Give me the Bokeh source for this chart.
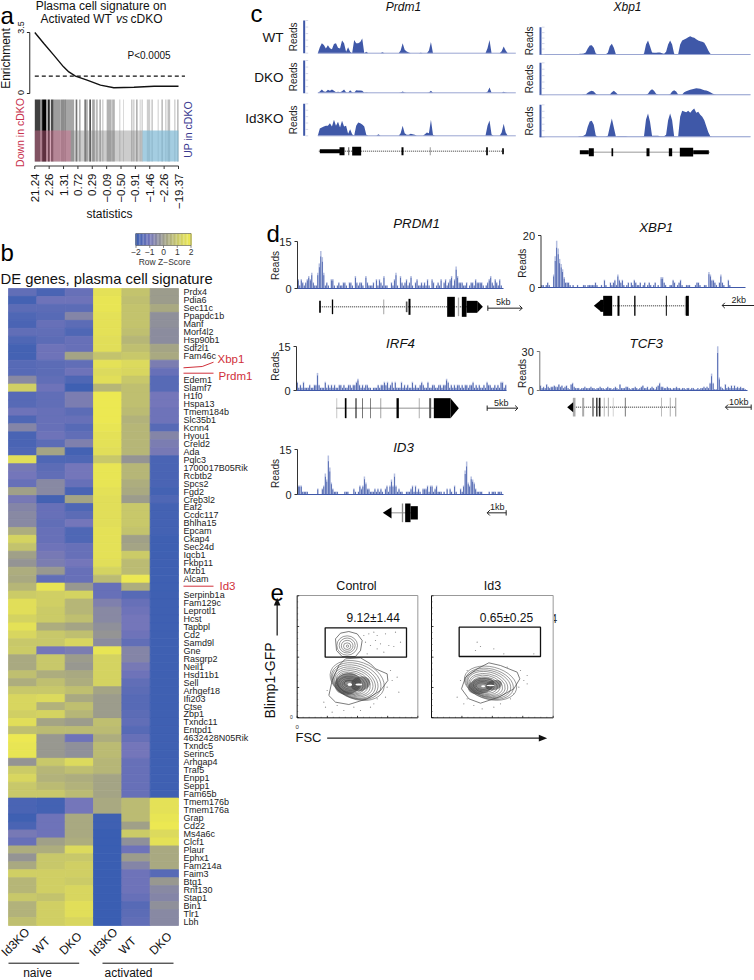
from math import pi
from bokeh.plotting import figure
from bokeh.models import Range1d, LinearColorMapper, ColumnDataSource
from bokeh.core.properties import value
from bokeh.embed import file_html
from bokeh.resources import INLINE

W, H = 754, 980
FONT = "Liberation Sans"

# ---------- panel a ----------
gsea_rank = [0, .063, .132, .2, .237, .283, .364, .457, .55, .69, .83, 1]
gsea_enrich = [3.5, 2.87, 2.2, 1.53, 1.24, 1.0, .77, .48, .33, .36, .42, .42]
stat_labels = ["21.24", "2.26", "1.31", "0.72", "0.29", "\u22120.09", "\u22120.50", "\u22120.91", "\u22121.46", "\u22122.26", "\u221219.37"]
bar_rank = [8, 19, 28, 36, 42, 52, 67, 82, 89, 105, 125, 135, 151, 156, 166, 176, 186, 196, 204, 223, 236, 255, 266, 291, 297, 306, 316, 322, 341, 352, 370, 382, 393, 402, 420, 429]
bar_width = [16, 6, 12, 5, 6, 8, 22, 7, 8, 26, 5, 5, 5, 6, 5, 8, 6, 5, 4, 15, 8, 3, 3, 4, 4, 5, 3, 4, 10, 5, 3, 5, 4, 8, 4, 5]
bar_gray = [.75, .45, 1, .3, .85, .7, .38, .45, .42, .35, .55, .3, .5, .3, .7, .35, .25, .3, .2, .3, .3, .2, .15, .25, .2, .3, .2, .2, .2, .2, .2, .25, .2, .25, .2, .25]

# ---------- panel b ----------
genes = ["Prdx4", "Pdia6", "Sec11c", "Ppapdc1b", "Manf", "Morf4l2", "Hsp90b1", "Sdf2l1", "Fam46c", "", "", "Edem1", "Slamf7", "H1f0", "Hspa13", "Tmem184b", "Slc35b1", "Kcnn4", "Hyou1", "Creld2", "Ada", "Pqlc3", "1700017B05Rik", "Rcbtb2", "Spcs2", "Fgd2", "Creb3l2", "Eaf2", "Ccdc117", "Bhlha15", "Epcam", "Ckap4", "Sec24d", "Iqcb1", "Fkbp11", "Mzb1", "Alcam", "", "Serpinb1a", "Fam129c", "Leprotl1", "Hcst", "Tapbpl", "Cd2", "Samd9l", "Gne", "Rasgrp2", "Neil1", "Hsd11b1", "Sell", "Arhgef18", "Ifi203", "Ctse", "Zbp1", "Txndc11", "Entpd1", "4632428N05Rik", "Txndc5", "Serinc5", "Arhgap4", "Traf5", "Enpp1", "Sepp1", "Fam65b", "Tmem176b", "Tmem176a", "Grap", "Cd22", "Ms4a6c", "Clcf1", "Plaur", "Ephx1", "Fam214a", "Faim3", "Btg1", "Rnf130", "Stap1", "Bin1", "Tlr1", "Lbh"]
naive_id3ko = [-1.3,-1.8,-1.4,-1.6,-1.7,-1.3,-1.6,-1.8,-1.8,-1.5,
 -1.5,-0.5,1.2,-1.5,-1.5,-1.1,-1.6,-0.6,-1.7,-1.7,
 -1.6,1.6,-0.9,-1.0,-1.2,0.1,-0.9,-0.6,-0.5,-0.5,
 0.4,1.3,0.9,0.1,-0.2,0.4,0.3,0.6,1.1,1.6,
 1.6,1.3,1.7,1.4,1.0,1.1,0.3,0.3,0.8,0.4,
 1.0,1.4,1.4,1.2,1.6,0.8,1.9,1.8,1.8,-0.2,
 1.1,1.4,1.0,1.0,-1.7,-1.7,-1.9,-1.7,-0.9,-1.2,
 0.4,-0.2,0.3,1.2,0.6,0.6,1.0,0.5,0.5,0.8]
naive_wt = [-1.7,-1.1,-1.4,-1.5,-1.2,-1.3,-1.4,-1.1,-1.1,-1.4,
 -1.4,-1.3,-1.1,-1.3,-1.3,-1.2,-1.2,-1.2,-1.1,-1.4,
 0.2,-1.6,-1.4,-1.3,-0.5,-0.5,-1.8,-1.2,-1.2,-1.3,
 -1.2,-1.2,-1.1,-0.9,-0.8,-0.1,-1.3,1.8,1.2,1.2,
 1.1,1.1,0.4,1.0,1.0,-1.0,1.0,1.0,0.4,0.8,
 1.0,1.5,0.5,1.3,0.2,0.7,-0.1,-0.1,-0.1,1.0,
 0.6,0.5,0.7,1.0,-1.8,-1.8,-1.1,-1.1,-1.1,0.1,
 0.4,1.0,1.0,1.2,1.2,1.2,0.9,1.2,1.2,1.2]
naive_dko = [-1.2,-1.1,-1.4,-0.6,-1.4,-1.6,-1.2,-1.2,0.2,-1.3,
 -1.1,-1.6,-1.9,-0.8,-0.8,-1.4,-1.2,-1.5,-1.3,-0.7,
 -1.8,-1.6,-1.0,-1.0,-1.2,-1.7,0.2,-1.6,-1.4,-1.0,
 -1.6,-1.6,-1.2,-1.2,-1.0,-1.2,-1.2,-0.1,1.3,0.6,
 0.6,0.8,0.2,0.8,1.4,-0.8,0.0,-0.1,0.3,0.4,
 0.8,0.3,0.8,0.6,0.0,0.7,-1.1,-0.3,-0.3,1.5,
 0.8,0.4,0.5,0.7,-1.0,-1.0,0.3,0.3,0.3,0.4,
 1.5,1.0,1.2,1.2,1.1,1.4,1.4,1.6,1.6,1.4]
act_id3ko = [1.7,1.8,1.8,1.7,1.7,1.7,1.6,1.6,0.9,1.7,
 1.5,1.6,0.6,1.9,1.9,1.9,1.9,1.8,1.7,1.7,
 1.6,1.0,1.8,1.8,1.8,1.7,1.6,1.6,1.6,1.6,
 1.7,1.7,1.7,1.7,1.6,1.3,0.7,-1.2,-1.2,-0.7,
 -0.5,-0.5,-0.3,-0.2,-0.4,1.8,1.3,1.3,1.3,1.3,
 0.2,0.0,0.0,0.0,0.8,0.7,0.4,0.7,0.7,0.6,
 0.6,0.2,0.2,0.2,0.3,0.3,-1.9,-1.9,-2,-2,
 -2,-2,-2,-2,-2,-2,-2,-2,-2,-2]
act_wt = [0.9,0.8,0.9,0.9,0.9,0.8,0.6,0.8,1.0,1.5,
 1.4,1.0,0.8,0.8,0.8,0.7,0.5,0.6,0.6,0.6,
 0.6,-0.2,0.6,0.6,0.4,0.3,0.0,1.0,1.0,1.0,
 0.9,0.1,0.2,1.1,0.7,0.7,1.9,0.4,-1.5,-1.2,
 -1.1,-1.0,-1.0,-1.1,-1.3,-0.6,-0.6,-0.9,-1.1,-1.3,
 -1.4,-1.5,-1.5,-1.4,-1.3,-1.5,-1.2,-1.0,-1.0,-1.2,
 -1.2,-1.2,-1.2,-1.2,0.7,0.7,0.7,0.1,1.1,-0.3,
 -1.1,0.0,-0.6,-1.1,-1.1,-1.1,-1.2,-1.5,-1.4,-1.3]
act_dko = [0.0,0.0,0.3,-0.3,-0.3,-0.4,-0.4,0.2,0.3,-0.8,
 -1.2,-1.5,-1.5,-1.0,-1.0,-1.1,-1.1,-1.5,-0.6,-0.8,
 -0.9,-1.7,-1.7,-1.7,-1.7,-1.8,-1.6,-1.8,-1.8,-1.8,
 -1.8,-1.9,-1.9,-1.9,-1.9,-1.9,-1.9,-1.9,-1.9,-1.9,
 -1.9,-1.9,-1.9,-1.9,-1.9,-1.9,-1.9,-1.9,-1.9,-1.9,
 -1.9,-1.9,-1.9,-1.9,-1.9,-1.9,-1.9,-1.9,-1.9,-1.9,
 -1.9,-1.9,-1.9,-1.9,1.7,1.7,1.8,1.9,1.5,1.7,
 0.3,0.3,0.3,-1.5,-0.1,-0.5,-0.6,-0.3,-0.5,-0.5]
sample_labels = ["Id3KO", "WT", "DKO", "Id3KO", "WT", "DKO"]

# ---------- panel c: coverage, in bins ----------
prdm1_wt = [0,18,30,25,14,24,15,12,28,30,16,14,38,30,4,18,4,0,40,30,30,34,44,0,4,0,0,0,0,0,0,0,3,0,0,0,0,0,0,0,0,8,30,10,5,2,0,0,0,0,0,1,0,0,0,8,34,0] + [0]*26 + [15,40,0,0,0,0,0,6,20,8,0,0,0,0,0]
prdm1_dko = [0,4,10,4,3,9,6,10,6,2,3,2,5,10,2,0,8,2,0,8,7,7,6,0,1,0,0,0,0,0,0,0,0,0,0,0,0,0,0,0,0,1,4,1,0,0,0,0,0,0,0,0,0,0,0,1,6,0] + [0]*26 + [3,16,0,0,0,0,0,0,3,1,0,0,0,0,0]
prdm1_id3ko = [0,22,25,28,30,30,38,28,48,30,42,25,45,28,30,6,20,5,0,30,40,38,34,28,3,0,0,0,0,0,5,0,0,0,0,0,0,0,0,0,0,8,30,8,3,3,6,5,3,0,0,0,0,5,10,8,48,3] + [0]*26 + [30,46,4,0,0,0,0,10,36,10,0,0,0,0,0]
xbp1_wt = [0]*20 + [2,2,3,6,18,27,28,20,3,1,1,1,1,1,5,25,32,20,1,1,1,1,1,1,1,1,1,1,1,1,1,1,2,30,42,25,6,5,5,6,6,4,2,8,30,42,30,2,1,1,30,42,45,48,52,55,52,50,46,42,40,38,35,25,12,2] + [1]*20
xbp1_dko = [0]*22 + [1,1,6,10,12,10,3,1,1,1,1,1,1,1,8,12,7,1,1,1,1,1,1,1,1,1,1,1,1,1,1,1,3,12,17,12,3,1,1,1,1,1,1,2,10,14,10,1,1,1,8,11,13,15,17,18,20,19,18,16,14,13,11,8,4,2] + [1]*18
xbp1_id3ko = [0]*20 + [2,2,3,8,30,46,48,36,4,1,1,1,1,1,3,30,55,28,1,2,2,2,2,2,1,1,1,1,1,1,1,1,2,52,70,45,3,3,3,3,2,2,2,6,50,70,50,2,1,1,60,78,76,74,78,72,80,85,72,75,66,60,50,32,14,2] + [1]*20

# ---------- panel d: reads per bin ----------
prdm1_reads = [3,1,3,2,1,2,3,4,3,5,2,1,1,5,8,12,10,5,1,2,1,0,3,3,1,0,1,2,1,1,2,2,1,0,2,2,1,0,4,2,1,2,2,1,0,4,2,1,1,1,2,0,3,1,3,2,1,4,1,1,0,0,2,1,3,5,1,0,4,2,1,2,3,1,2,4,1,0,2,3,1,1,2,1,2,1,3,1,0,3,2,0,1,2,1,3,0,2,3,1,2,3,4,1,3,7,4,2,2,2,1,1,2,0,1,2,2,1,3,2,2,2,2,1,0,1,2,3,4,2,1,3,2,1,3,1,0]
xbp1_reads = [1,1,0,1,2,1,0,0,5,12,18,15,11,9,7,4,2,2,2,1,0,1,0,0,1,0,0,0,1,1,0,1,1,1,1,1,2,1,0,0,1,0,3,1,0,0,2,1,2,3,1,5,3,2,3,1,0,1,2,0,2,1,3,2,1,1,2,0,1,2,0,1,2,1,0,1,2,0,1,0,4,4,2,1,0,0,1,1,3,2,0,1,2,3,1,0,0,1,1,1,0,0,0,1,2,2,1,0,0,1,1,0,6,5,3,3,2,1,0,2,5,2,1,0,0,3,1,0,0,0,0,0,0,0,0,0,0]
irf4_reads = [3,1,2,1,3,1,1,1,2,1,1,2,2,6,2,1,1,1,3,1,2,1,2,1,2,1,1,2,2,1,2,1,1,2,2,1,2,2,3,4,2,1,2,1,2,2,1,1,0,1,1,1,2,1,2,2,3,2,3,1,2,3,1,3,1,1,1,3,1,2,1,2,1,1,3,1,2,1,1,2,3,2,1,1,3,1,1,2,2,1,1,2,2,1,2,2,4,3,1,2,1,2,1,2,2,1,2,1,2,2,1,2,2,3,1,2,1,2,1,1,2,1,3,2,2,1,1,2,1,2,1,3,3,1,2]
tcf3_reads = [4,2,3,2,5,3,2,3,3,4,3,3,5,3,4,2,3,4,2,1,5,6,3,2,2,2,1,2,2,3,2,2,2,3,2,2,1,2,2,3,2,2,1,2,3,2,2,1,2,3,2,1,5,2,2,2,3,3,2,1,2,2,3,2,1,2,3,4,2,2,3,1,2,3,2,1,3,4,6,3,3,2,2,3,2,2,1,2,2,3,2,2,1,2,2,1,2,2,1,2,2,1,1,2,1,2,2,3,2,3,2,6,13,6,1,1,34,10,3,2,1,5,2,3,2,4,2,4,2,3,2,3,2,2,1,0]
id3_reads = [3,3,3,1,1,1,1,0,0,0,0,0,0,2,0,0,2,3,7,5,13,9,4,2,1,1,1,0,0,0,0,1,1,1,0,0,0,2,1,0,1,3,2,3,6,4,2,2,1,1,1,2,1,2,1,2,1,0,2,3,1,3,5,3,7,3,1,2,1,1,0,0,1,1,1,2,3,1,3,1,2,1,0,2,2,2,3,1,3,3,1,2,3,1,1,1,0,1,0,2,0,2,1,0,3,1,0,0,2,1,3,8,11,4,3,6,5,4,2,1,1,1,1,0,0,0,0,1,0,1,1,1,0,1,1,1,0]

# ---------- gene models: (start, end, half height, colour) ----------
model_c = {
    "prdm1": (452, 175, 730, [(178,240,6,"#000"),(237,252,12,"#000"),(264,266,12,"#000"),(275,302,13,"#000"),(423,429,12,"#000"),(508,510,12,"#666"),(677,682,12,"#000"),(725,730,9,"#000")]),
    "xbp1": (455, 960, 1350, [(958,985,6,"#000"),(985,1000,12,"#000"),(1053,1058,12,"#000"),(1158,1167,12,"#000"),(1225,1235,12,"#000"),(1258,1298,13,"#000"),(1298,1345,6,"#000")]),
}
model_d = {
    "prdm1": (289, 178, 650, [(176,181,18,"#000"),(214,218,22,"#000"),(369,371,22,"#777"),(436,441,16,"#555"),(444,450,24,"#000"),(560,583,30,"#000"),(592,596,28,"#aaa"),(604,618,30,"#000"),(618,650,18,"#000")], (650,667,18)),
    "xbp1": (286, 1010, 1285, [(1020,1030,18,"#000"),(1028,1055,30,"#000"),(1071,1077,30,"#000"),(1121,1125,30,"#000"),(1216,1219,30,"#000"),(1273,1276,28,"#aaa"),(1276,1285,30,"#000")], (1022,1000,18)),
    "irf4": (593, 228, 520, [(228,230,30,"#aaa"),(253,258,30,"#000"),(285,288,30,"#000"),(305,307,30,"#333"),(329,331,30,"#444"),(360,362,30,"#777"),(408,415,30,"#000"),(475,477,30,"#888"),(506,512,30,"#555"),(520,570,30,"#000")], (570,595,30)),
    "tcf3": (590, 935, 1245, [(937,945,28,"#aaa"),(965,971,28,"#aaa"),(995,1000,28,"#777"),(1007,1011,28,"#222"),(1015,1020,28,"#222"),(1030,1032,28,"#999"),(1042,1045,28,"#aaa"),(1057,1059,28,"#bbb"),(1093,1096,28,"#777"),(1202,1204,28,"#999"),(1228,1230,28,"#888"),(1245,1247,28,"#666")], (938,920,15)),
    "id3": (907, 393, 470, [(424,428,28,"#888"),(434,450,28,"#000"),(450,472,20,"#000")], (393,367,17)),
}
scale_bars = [(682,785,293,"5kb",728,275,1),(1385,1483,285,"2kb",1435,268,-1),(680,772,593,"5kb",722,578,1),(1395,1472,590,"10kb",1435,575,-1),(680,737,907,"1kb",710,890,-1)]

# ---------- panel e: contours (x, y, width, height, angle) ----------
ctrl_contours = [(290,330,168,112,20),(287,332,154,104,20),(284,334,142,96,20),(282,336,130,88,20),(280,337,118,80,18),(278,338,106,72,18),(275,339,96,65,15),(272,340,86,58,15),(270,342,76,50,10),(268,342,66,44,10),(268,342,56,36,8),(268,342,46,28,5),(268,340,36,20,0),(265,338,26,14,0),
                 (260,225,62,58,0),(260,225,48,45,0),(260,226,35,33,0),(260,227,22,20,0),(261,227,7,7,0)]
id3_contours = [(690,338,160,98,14),(687,340,146,90,14),(685,341,134,82,14),(682,342,122,75,14),(680,344,110,68,12),(678,345,98,60,12),(676,346,86,52,10),(674,346,74,44,10),(670,347,62,36,8),(668,347,50,28,5),(666,347,38,20,5)]
ctrl_outer_x = [[205,215,235,255,300,330,345,380,382,360,320,265,225,205],[225,240,265,290,305,300,285,245,228,225]]
ctrl_outer_y = [[375,330,285,265,262,280,295,310,330,360,385,402,395,375],[205,188,183,190,210,240,258,258,240,205]]
id3_outer_x = [[603,615,650,685,720,770,778,760,715,660,625,603]]
id3_outer_y = [[355,320,295,277,285,305,325,355,380,398,385,355]]
ctrl_dots_x = [310,325,340,350,345,360,330,385,400,420,375,315,405,300,320,370,350,195,215,250,300,340,395,410,380,375,200,190,350,390,280,230,330,415]
ctrl_dots_y = [195,190,185,195,210,220,225,225,228,215,190,215,185,240,250,245,235,410,425,420,420,400,330,320,350,380,360,395,385,300,410,405,410,365]
id3_dots_x = [650,660,700,645,800,790,775,800,760,720,700,640,610,590,600,620,740,780,665,750,620,820,730]
id3_dots_y = [215,228,235,240,315,330,350,340,370,400,410,405,400,380,330,300,290,300,415,385,385,250,250]

p = figure(width=W, height=H, x_range=Range1d(0, W), y_range=Range1d(H, 0),
           x_axis_type=None, y_axis_type=None, toolbar_location=None, output_backend="svg",
           min_border=0, outline_line_color=None, background_fill_color="white", border_fill_color="white")
p.grid.visible = False

_n = [0]
def panel(dx0, dx1, px0, px1, dy0, dy1, py0, py1):
    _n[0] += 1
    xn, yn = f"x{_n[0]}", f"y{_n[0]}"
    sx = (dx1 - dx0) / (px1 - px0)
    sy = (dy1 - dy0) / (py1 - py0)
    p.extra_x_ranges[xn] = Range1d(dx0 - px0 * sx, dx0 + (W - px0) * sx)
    p.extra_y_ranges[yn] = Range1d(dy0 + (H - py0) * sy, dy0 - py0 * sy)
    return dict(x_range_name=xn, y_range_name=yn)

def T(x, y, s, size, color="#111111", align="left", base="middle", angle=0, style="normal", **kw):
    p.text(x=[x], y=[y], text=[s], text_font=value(FONT), text_font_size=f"{size}px", text_color=color,
           text_align=align, text_baseline=base, angle=angle, text_font_style=style, **kw)

# palette
anchors = [(58, 94, 178), (116, 118, 186), (156, 156, 140), (200, 200, 106), (240, 236, 80)]
palette = []
for k in range(4):
    for j in range(32):
        t = j / 32
        palette.append("#%02x%02x%02x" % tuple(int(anchors[k][c] + (anchors[k + 1][c] - anchors[k][c]) * t) for c in range(3)))
palette.append("#%02x%02x%02x" % anchors[-1])
mapper = LinearColorMapper(palette=palette, low=-2, high=2)

# ----- a -----
for s, x, y in [("a", 0, 15), ("b", 0, 252), ("c", 250, 13), ("d", 266, 233), ("e", 270, 592)]:
    T(x, y, s, 24, "#000000", base="alphabetic")
T(100.5, 5, "Plasma cell signature on", 12, align="center")
T(40, 18, "Activated WT", 12)
T(115.5, 18, "vs", 12, style="italic")
T(130, 18, "cDKO", 12)
k = panel(0, 1, 34.3, 178, 0, 3.5, 93, 32)
p.line(gsea_rank, gsea_enrich, line_color="#111111", line_width=1.4, **k)
p.line([0, 1.045], [1, 1], line_color="#111111", line_width=1.2, line_dash="4 3", **k)
p.segment(x0=[-.035], y0=[0], x1=[-.035], y1=[3.5], line_color="#222", line_width=1, **k)
p.segment(x0=[-.035, -.035], y0=[0, 3.5], x1=[-.055, -.055], y1=[0, 3.5], line_color="#222", line_width=1, **k)
T(20.5, 92, "0", 9, angle=pi/2, align="center")
T(20.5, 27, "3.5", 9, angle=pi/2, align="center")
T(5, 58, "Enrichment", 12, angle=pi/2, align="center")
T(127, 55, "P<0.0005", 10)

kb = panel(0, 431, 34.3, 178, 0, 1, 161, 99)
p.vbar(x=bar_rank, width=bar_width, bottom=0, top=1, fill_color="#000000", fill_alpha=bar_gray, line_color=None, **kb)
p.quad(left=[0, 108, 323], right=[108, 323, 431], bottom=[0, 0, 0], top=[.5, .5, .5],
       fill_color=["#d0688c", "#808080", "#7db8d4"], fill_alpha=[.45, .4, .7], line_color=None, **kb)
T(19.5, 132, "Down in cDKO", 10.5, "#c8324e", angle=pi/2, align="center")
T(187, 129, "UP in cDKO", 10.5, "#3a3a90", angle=pi/2, align="center")
kt = panel(0, 10, 34.3, 178, 0, 1, 165.5, 164.5)
p.line([0, 10], [0, 0], line_color="#333", line_width=1, **kt)
p.segment(x0=list(range(11)), y0=[0]*11, x1=list(range(11)), y1=[-3]*11, line_color="#333", line_width=1, **kt)
p.text(x=list(range(11)), y=[-7.5]*11, text=stat_labels, angle=pi/2, text_align="right", text_baseline="middle",
       text_font=value(FONT), text_font_size="11.5px", text_color="#111", **kt)
T(109, 213, "statistics", 12, align="center")

# ----- b -----
cb_z = [-2 + .1 * i for i in range(41)]
kc = panel(-2, 2, 135.5, 190.5, 0, 1, 245, 233)
p.rect(x=cb_z, y=[.5]*41, width=.105, height=1, fill_color=[palette[min(128, int((z+2)*32))] for z in cb_z], line_color=None, **kc)
p.quad(left=[-2], right=[2], bottom=[0], top=[1], fill_color=None, line_color="#555", line_width=.6, **kc)
p.segment(x0=[-2,-1,0,1,2], y0=[0]*5, x1=[-2,-1,0,1,2], y1=[-.2]*5, line_color="#555", line_width=.7, **kc)
p.text(x=[-2,-1,0,1,2], y=[-.5]*5, text=["\u22122","\u22121","0","1","2"], text_align="center", text_baseline="middle",
       text_font=value(FONT), text_font_size="8.5px", text_color="#333", **kc)
T(164, 261, "Row Z\u2212Score", 8.5, "#333", align="center")
T(0, 278, "DE genes, plasma cell signature", 14.8, "#111")

cols = [naive_id3ko, naive_wt, naive_dko, act_id3ko, act_wt, act_dko]
hx, hy, hz = [], [], []
for ci, col in enumerate(cols):
    for ri, z in enumerate(col):
        hx.append(ci + .5); hy.append(ri + .5); hz.append(z)
kh = panel(0, 6, 8, 178, 0, 80, 288, 925)
p.rect(x="x", y="y", width=1, height=1, source=ColumnDataSource(dict(x=hx, y=hy, z=hz)),
       fill_color={"field": "z", "transform": mapper}, line_color={"field": "z", "transform": mapper}, line_width=.8, **kh)
lab = [(i + .5, g) for i, g in enumerate(genes) if g]
p.text(x=[6.18]*len(lab), y=[a for a, _ in lab], text=[b for _, b in lab], text_font=value(FONT), text_font_size="9px",
       text_color="#222", text_baseline="middle", **kh)
RED = "#d0303a"
T(217, 358.7, "Xbp1", 11.5, RED); T(218, 375.7, "Prdm1", 11.5, RED); T(219, 585, "Id3", 11.5, RED)
p.line([183, 201.7, 213], [367.3, 366, 361.7], line_color=RED, line_width=1)
p.segment(x0=[183, 183], y0=[372.7, 585.7], x1=[213, 213], y1=[372.7, 585.7], line_color=RED, line_width=1)
for i, (s, dx, dy) in enumerate(zip(sample_labels, [15, 41, 70, 103, 127, 160], [941.7, 945, 943, 941.7, 945, 943])):
    T(dx, dy, s, 12, angle=pi/4, align="center")
p.segment(x0=[8, 102], y0=[962.7, 962.7], x1=[78.7, 173], y1=[962.7, 962.7], line_color="#111", line_width=1)
T(37, 972.5, "naive", 12, align="center"); T(128, 972.5, "activated", 12, align="center")

# ----- c -----
BLUE = "#3f58a8"
T(403, 6, "Prdm1", 12, style="italic", align="center"); T(627, 6, "Xbp1", 12, style="italic", align="center")
for s, y in [("WT", 37), ("DKO", 77), ("Id3KO", 118)]:
    T(283, y, s, 13.5, align="right")
def track(vals, x0, x1, base):
    k = panel(0, len(vals) - 1, x0, x1, 0, 100, base, base - 33.3)
    p.varea(x=list(range(len(vals))), y1=[0]*len(vals), y2=vals, fill_color=BLUE, **k)
    p.line([0, len(vals) - 1], [0, 0], line_color="#9aa6d2", line_width=1, **k)
for v, b in [(prdm1_wt, 52.7), (prdm1_dko, 92.3), (prdm1_id3ko, 135.3)]:
    track(v, 317.3, 515.3, b)
for v, b in [(xbp1_wt, 54), (xbp1_dko, 94.3), (xbp1_id3ko, 136.3)]:
    track(v, 539, 750, b)
kz = panel(0, 3, 260, 261, 0, 3, 0, 1)
for x, y0, y1, rx in [(131,60,158,100),(131,180,278,100),(131,310,406,100),(840,80,162,808),(840,187,283,808),(840,313,410,808)]:
    p.segment(x0=[x], y0=[y0], x1=[x], y1=[y1], line_color=BLUE, line_width=2, **kz)
    n = 5
    ys = [y1 - (y1 - y0) * i / n for i in range(n + 1)]
    p.segment(x0=[x + 4]*6, y0=ys, x1=[x + 12]*6, y1=ys, line_color="#b8bfdc", line_width=.6, **kz)
    p.text(x=[rx], y=[(y0 + y1) / 2], text=["Reads"], angle=pi/2, text_align="center", text_baseline="middle",
           text_font=value(FONT), text_font_size="10px", text_color="#222", **kz)
for g in model_c.values():
    yc, a, b, ex = g
    p.segment(x0=[a], y0=[yc], x1=[b], y1=[yc], line_color="#333", line_width=1, line_dash="1 1", **kz)
    p.quad(left=[e[0] for e in ex], right=[e[1] for e in ex], top=[yc - e[2] for e in ex], bottom=[yc + e[2] for e in ex],
           fill_color=[e[3] for e in ex], line_color=None, **kz)

# ----- d -----
for s, x, y in [("PRDM1", 416, 223), ("XBP1", 655.7, 226.7), ("IRF4", 400, 342.7), ("TCF3", 645.7, 342.7), ("ID3", 403, 446.7)]:
    T(x, y, s, 13.3, style="italic", align="center")
def reads(vals, ymax, label, x0, x1, base, top, axcol="#333", reads_y=None, lab_x=None):
    k = panel(0, len(vals), x0, x1, 0, ymax, base, top)
    xs = [i + .5 for i in range(len(vals))]
    p.vbar(x=xs, width=1, bottom=0, top=vals, fill_color="#b4bee0", line_color=None, **k)
    p.vbar(x=xs, width=.5, bottom=0, top=[v * .85 for v in vals], fill_color=BLUE, line_color=None, **k)
    p.line([0, len(vals)], [0, 0], line_color=BLUE, line_width=1.2, **k)
    p.segment(x0=[0], y0=[0], x1=[0], y1=[ymax], line_color=axcol, line_width=1, **k)
    t = 3 * len(vals) / (x1 - x0)
    p.segment(x0=[0, 0], y0=[0, ymax], x1=[-t, -t], y1=[0, ymax], line_color=axcol, line_width=1, **k)
    p.text(x=[-2 * t, -2 * t], y=[0, ymax], text=["0", label], text_align="right", text_baseline="middle",
           text_font=value(FONT), text_font_size="11px", text_color="#222", **k)
    T(lab_x, reads_y, "Reads", 10, "#222", angle=pi/2, align="center")
reads(prdm1_reads, 15, "15", 297, 503, 288, 241, reads_y=265, lab_x=275)
reads(xbp1_reads, 20, "20", 540.5, 745, 287, 235, reads_y=262.7, lab_x=521.7)
reads(irf4_reads, 15, "15", 296, 506, 390, 346, reads_y=365.7, lab_x=275)
reads(tcf3_reads, 30, "30", 539.3, 747, 390, 351, axcol="#777", reads_y=373, lab_x=521.7)
reads(id3_reads, 15, "15", 297, 503, 494, 449, reads_y=473, lab_x=275)
kd = panel(0, 3, 260, 261, 0, 3, 210, 211)
for g in model_d.values():
    yc, a, b, ex, tip = g
    p.segment(x0=[a], y0=[yc], x1=[b], y1=[yc], line_color="#222", line_width=1, line_dash="1 1", **kd)
    p.quad(left=[e[0] for e in ex], right=[e[1] for e in ex], top=[yc - e[2] for e in ex], bottom=[yc + e[2] for e in ex],
           fill_color=[e[3] for e in ex], line_color=None, **kd)
    p.patch(x=[tip[0], tip[1], tip[0]], y=[yc - tip[2], yc, yc + tip[2]], fill_color="#000", line_color=None, **kd)
for a, b, y, s, tx, ty, d in scale_bars:
    p.segment(x0=[a], y0=[y], x1=[b], y1=[y], line_color="#222", line_width=1, **kd)
    end, bar = (b, a) if d > 0 else (a, b)
    p.segment(x0=[bar], y0=[y - 8], x1=[bar], y1=[y + 8], line_color="#222", line_width=1, **kd)
    p.line(x=[end - d * 8, end, end - d * 8], y=[y - 8, y, y + 8], line_color="#222", line_width=1, **kd)
    p.text(x=[tx], y=[ty], text=[s], text_align="center", text_baseline="middle", text_font=value(FONT),
           text_font_size="9px", text_color="#222", **kd)

# ----- e -----
ke = panel(0, 3, 260, 261, 0, 3, 570, 571)
T(356, 585, "Control", 12.5, align="center"); T(492, 585, "Id3", 12.5, align="center")
T(372.7, 617.7, "9.12\u00b11.44", 12, align="center"); T(506, 617.7, "0.65\u00b10.25", 12, align="center")
T(550, 617.7, "4", 12, "#333")
p.quad(left=[540], right=[553.5], top=[610], bottom=[625], fill_color="white", line_color=None)
p.ellipse(x=[262, 300, 662, 700], y=[340, 340, 346, 344], width=[80, 60, 80, 50], height=[64, 44, 48, 30], angle=[.25]*4,
          fill_color="#333", fill_alpha=.55, line_color=None, **ke)
for contours in (ctrl_contours, id3_contours):
    p.ellipse(x=[c[0] for c in contours], y=[c[1] for c in contours], width=[c[2] for c in contours], height=[c[3] for c in contours],
              angle=[-c[4] * pi / 180 for c in contours], fill_color=None, line_color="#444", line_width=.55, **ke)
p.multi_line(xs=ctrl_outer_x + id3_outer_x, ys=ctrl_outer_y + id3_outer_y, line_color="#444", line_width=.7, **ke)
p.ellipse(x=[268, 295, 668, 690], y=[342, 342, 347, 345], width=[14, 20, 12, 24], height=[9, 6, 6, 4], fill_color="white", line_color=None, **ke)
p.scatter(x=ctrl_dots_x + id3_dots_x, y=ctrl_dots_y + id3_dots_y, size=1.2, marker="circle", fill_color="#888", line_color=None, **ke)
for fx0, fx1, gx0, gx1, gy0, gy1 in [(110, 472, 194, 438, 172, 260), (513, 878, 596, 840, 170, 258)]:
    p.segment(x0=[fx0, fx0], y0=[75, 442], x1=[fx0, fx1], y1=[442, 442], line_color="#111", line_width=1, **ke)
    p.segment(x0=[fx0, fx1], y0=[75, 75], x1=[fx1, fx1], y1=[75, 442], line_color="#999", line_width=1, **ke)
    maj_y = [76, 168, 260, 351, 441]
    maj_x = [fx0 + (fx1 - fx0) * j / 4 for j in range(5)]
    p.segment(x0=[fx0]*5, y0=maj_y, x1=[fx0 + 6]*5, y1=maj_y, line_color="#111", line_width=.8, **ke)
    p.segment(x0=maj_x, y0=[442]*5, x1=maj_x, y1=[436]*5, line_color="#111", line_width=.8, **ke)
    minor = [m + d for m in maj_y[:4] for d in (18, 36, 54, 72)]
    p.segment(x0=[fx0]*16, y0=minor, x1=[fx0 + 3]*16, y1=minor, line_color="#333", line_width=.6, **ke)
    minorx = [m + d for m in maj_x[:4] for d in (18, 36, 54, 72)]
    p.segment(x0=minorx, y0=[442]*16, x1=minorx, y1=[439]*16, line_color="#333", line_width=.6, **ke)
    p.quad(left=[gx0], right=[gx1], top=[gy0], bottom=[gy1], fill_color=None, line_color="#111", line_width=1.3, **ke)
T(296.7, 726, "0", 6, "#333", align="center"); T(291, 716.7, "0", 5, "#333", align="center")
T(269, 680, "Blimp1-GFP", 14, "#111", angle=pi/2, align="center")
p.segment(x0=[50], y0=[195], x1=[50], y1=[95], line_color="#222", line_width=1.3, **ke)
p.patch(x=[40, 50, 60], y=[105, 82, 105], fill_color="#111", line_color=None, **ke)
T(295, 737, "FSC", 13, "#111")
p.segment(x0=[200], y0=[503], x1=[840], y1=[503], line_color="#222", line_width=1.3, **ke)
p.patch(x=[835, 860, 835], y=[493, 503, 513], fill_color="#111", line_color=None, **ke)

open("out.html", "w").write(file_html(p, INLINE))
